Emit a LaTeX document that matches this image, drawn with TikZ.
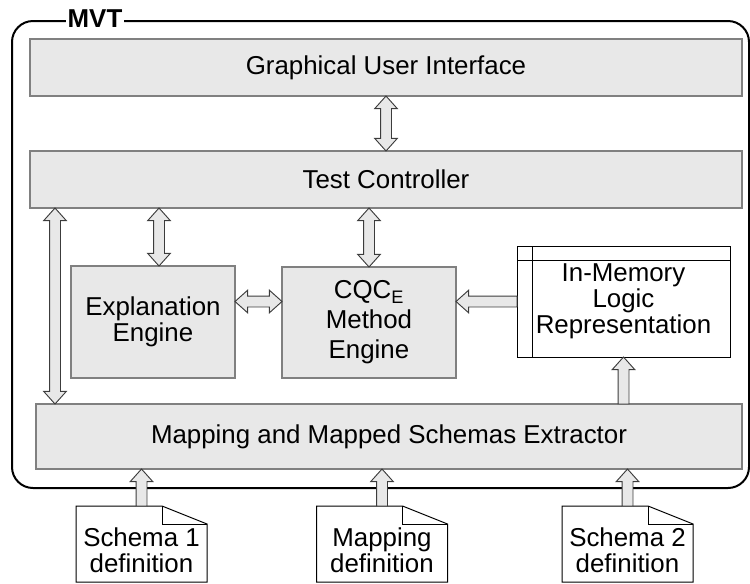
\documentclass[tikz,border=0pt]{standalone}
\usepackage{fontspec}
\setmainfont{Liberation Sans}
\usetikzlibrary{calc}

% one drawing unit = one pixel of the layout grid
\newcommand\pxu{0.75pt}
% block-arrow geometry (half widths and head length)
\newcommand\shaftw{4.1pt}
\newcommand\headw{8.5pt}
\newcommand\headl{9.5pt}

\definecolor{boxfill}{RGB}{232,232,232}
\definecolor{boxline}{RGB}{128,128,128}
\definecolor{arrowline}{RGB}{60,60,60}

\tikzset{
  txt/.style={font=\fontsize{19.4}{19.6}\selectfont, align=center},
  block/.style={txt, draw=boxline, fill=boxfill, line width=1.1pt, inner sep=0pt, outer sep=0pt},
  memstore/.style={txt, draw=black, fill=white, line width=0.75pt, inner sep=0pt, outer sep=0pt},
  docbox/.style={inner sep=0pt, outer sep=0pt, minimum width=131*\pxu, minimum height=76*\pxu},
  docline/.style={draw=black, fill=white, line width=0.75pt, line join=miter},
  blockarrow/.style={draw=arrowline, fill=boxfill, line width=0.7pt, line join=miter},
  frame/.style={draw=black, line width=1.5pt, rounded corners=15.75pt, inner sep=0pt, outer sep=0pt},
  framelabel/.style={font=\fontsize{19.4}{19.6}\selectfont\bfseries, fill=white, inner sep=1.5pt},
}

% double-headed block arrow between two named points
\newcommand\dblarrow[2]{%
  \path ($(#1)!\headl!(#2)$) coordinate (ha) ($(#2)!\headl!(#1)$) coordinate (hb);
  \draw[blockarrow] (#1) -- ($(ha)!\headw!90:(#2)$) -- ($(ha)!\shaftw!90:(#2)$)
    -- ($(hb)!\shaftw!-90:(#1)$) -- ($(hb)!\headw!-90:(#1)$) -- (#2)
    -- ($(hb)!\headw!90:(#1)$) -- ($(hb)!\shaftw!90:(#1)$)
    -- ($(ha)!\shaftw!-90:(#2)$) -- ($(ha)!\headw!-90:(#2)$) -- cycle;}

% single-headed block arrow from #1 (flat tail) to #2 (tip)
\newcommand\onearrow[2]{%
  \path ($(#2)!\headl!(#1)$) coordinate (hb);
  \draw[blockarrow] ($(#1)!\shaftw!-90:(#2)$) -- ($(hb)!\shaftw!90:(#1)$)
    -- ($(hb)!\headw!90:(#1)$) -- (#2) -- ($(hb)!\headw!-90:(#1)$)
    -- ($(hb)!\shaftw!-90:(#1)$) -- ($(#1)!\shaftw!90:(#2)$) -- cycle;}

% dog-eared document outline around a named box
\newcommand\docoutline[1]{%
  \draw[docline] (#1.north west) -- ([xshift=-45*\pxu]#1.north east)
    -- ([yshift=-18*\pxu]#1.north east) -- (#1.south east) -- (#1.south west) -- cycle;
  \draw[docline, fill=none] ([xshift=-45*\pxu]#1.north east)
    -- ([xshift=-45*\pxu, yshift=-18*\pxu]#1.north east) -- ([yshift=-18*\pxu]#1.north east);}

\begin{document}
\begin{tikzpicture}[x=0.75pt, y=-0.75pt]
\useasboundingbox (0,0) rectangle (750,583);

% enclosing MVT frame
\node[frame, minimum width=737*\pxu, minimum height=467*\pxu] (mvt) at (380.5,254.5) {};
\node[framelabel] (mvtlabel) at (95,19) {MVT};

% components
\node[block, minimum width=712*\pxu, minimum height=57*\pxu] (gui) at (386,67.5) {Graphical User Interface};
\node[block, minimum width=712*\pxu, minimum height=57*\pxu] (tc) at (386,179.5) {Test Controller};
\node[block, minimum width=164*\pxu, minimum height=112*\pxu] (expl) at (153,322) {Explanation\\Engine};
\node[block, minimum width=174*\pxu, minimum height=111*\pxu,
      font=\fontsize{19.4}{22.5}\selectfont] (cqc) at (369,322.5) {CQC\textsubscript{E}\\Method\\Engine};
\node[memstore, minimum width=213*\pxu, minimum height=111*\pxu] (mem) at (623.5,301.5) {In-Memory\\Logic\\Representation};
\draw[black, line width=0.75pt] ([yshift=-14*\pxu]mem.north west) -- ([yshift=-14*\pxu]mem.north east);
\draw[black, line width=0.75pt] ([xshift=15*\pxu]mem.north west) -- ([xshift=15*\pxu]mem.south west);
\node[block, minimum width=706*\pxu, minimum height=65*\pxu] (map) at (389,436.5) {Mapping and Mapped Schemas Extractor};

% input documents
\node[docbox] (doc1) at (141.5,544) {};
\node[docbox] (doc2) at (382,544) {};
\node[docbox] (doc3) at (627.5,544) {};
\docoutline{doc1}
\docoutline{doc2}
\docoutline{doc3}
\node[txt, inner sep=0pt] (doc1text) at ([yshift=-5pt]doc1.center) {Schema 1\\definition};
\node[txt, inner sep=0pt] (doc2text) at ([yshift=-5pt]doc2.center) {Mapping\\definition};
\node[txt, inner sep=0pt] (doc3text) at ([yshift=-5pt]doc3.center) {Schema 2\\definition};

% connector end points
\coordinate (tcx) at (tc.south -| 159,0);
\coordinate (explx) at (expl.north -| 159,0);
\coordinate (tcleft) at (tc.south -| 55,0);
\coordinate (mapleft) at (map.north -| 55,0);
\coordinate (explright) at (expl.east |- mem.west);
\coordinate (cqcleft) at (cqc.west |- mem.west);
\coordinate (cqcright) at (cqc.east |- mem.west);
\coordinate (tccqc) at (tc.south -| cqc.north);
\coordinate (mapmem) at (map.north -| mem.south);
\coordinate (map1) at (map.south -| doc1.north);
\coordinate (map2) at (map.south -| doc2.north);
\coordinate (map3) at (map.south -| doc3.north);

% connectors
\dblarrow{gui.south}{tc.north}
\dblarrow{tcx}{explx}
\dblarrow{tccqc}{cqc.north}
\dblarrow{tcleft}{mapleft}
\dblarrow{explright}{cqcleft}
\onearrow{mem.west}{cqcright}
\onearrow{mapmem}{mem.south}
\onearrow{doc1.north}{map1}
\onearrow{doc2.north}{map2}
\onearrow{doc3.north}{map3}
\end{tikzpicture}
\end{document}
